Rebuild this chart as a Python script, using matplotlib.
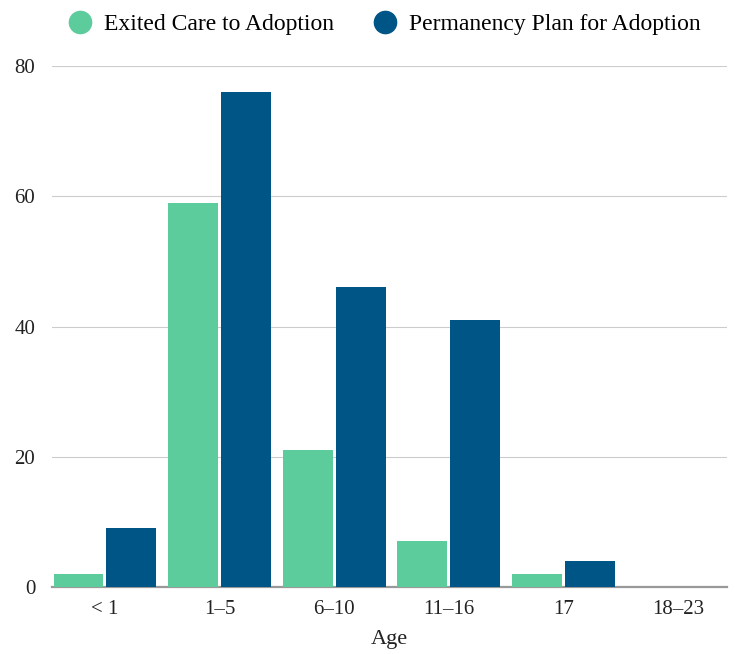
import numpy as np
import matplotlib.pyplot as plt
from matplotlib.lines import Line2D

plt.rcParams['font.family'] = ['Liberation Serif', 'DejaVu Serif']

ages = ['< 1', '1–5', '6–10', '11–16', '17', '18–23']
exited = [2, 59, 21, 7, 2, 0]
plan = [9, 76, 46, 41, 4, 0]
series_names = ['Exited Care to Adoption', 'Permanency Plan for Adoption']
colors = ['#5ccc9c', '#005587']

fig = plt.figure(figsize=(7.35, 6.54), dpi=100)
ax = fig.add_axes([0.0707, 0.1024, 0.9183, 0.7966])

x = np.arange(len(ages))
w = 0.436
ax.bar(x - w / 2 - 0.013, exited, width=w, color=colors[0], zorder=3)
ax.bar(x + w / 2 + 0.013, plan, width=w, color=colors[1], zorder=3)

ax.set_xlim(-0.4625, 5.428)
ax.set_ylim(0, 80)
ax.set_yticks([0, 20, 40, 60, 80])
ax.set_xticks(x)
ax.set_xticklabels(ages)
ax.tick_params(axis='both', length=0, labelsize=15, colors='#222222')
ax.tick_params(axis='x', pad=9)
ax.tick_params(axis='y', pad=12)
ax.grid(axis='y', color='#cccccc', linewidth=0.8, zorder=0)
for s in ['top', 'right', 'left']:
    ax.spines[s].set_visible(False)
ax.spines['bottom'].set_color('#999999')
ax.spines['bottom'].set_linewidth(1.6)
ax.set_xlabel('Age', fontsize=16, color='#222222', labelpad=8)

handles = [Line2D([], [], marker='o', linestyle='', markersize=16,
                  markerfacecolor=c, markeredgecolor=c) for c in colors]
fig.legend(handles, series_names, loc='upper center', bbox_to_anchor=(0.515, 1.012),
           ncol=2, frameon=False, fontsize=17, handletextpad=0.0,
           columnspacing=1.2)

fig.savefig('out.png', dpi=100)
